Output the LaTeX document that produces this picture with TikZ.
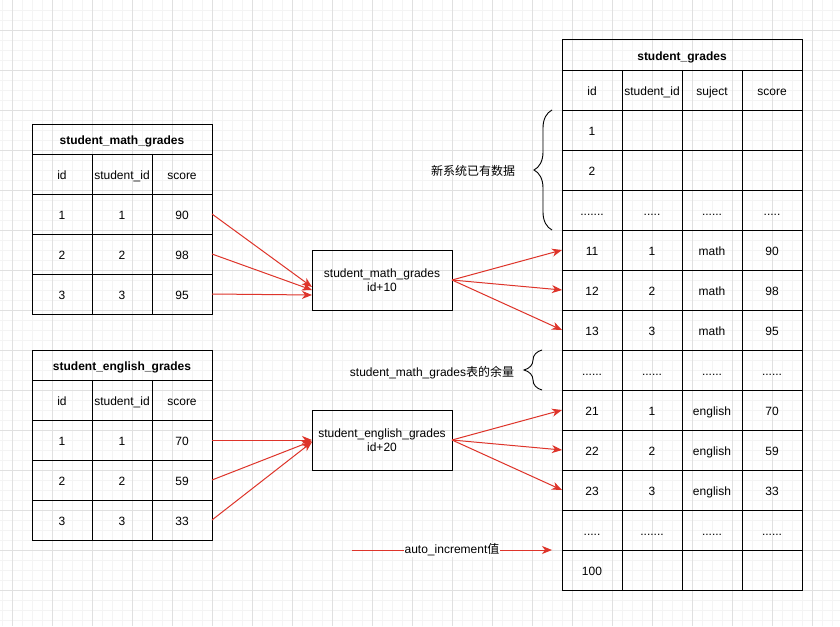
\documentclass[tikz,border=0pt]{standalone}
\usepackage{fontspec}
\setmainfont{Liberation Sans}
\newfontfamily\cjk{Noto Sans CJK SC}
\usepackage{tikz}
\usetikzlibrary{arrows.meta,decorations.pathreplacing}

\definecolor{gridmajor}{RGB}{224,224,224}
\definecolor{gridminor}{RGB}{244,244,244}
\definecolor{linkred}{RGB}{222,52,42}

\tikzset{
  cell/.style={draw,line width=1pt,minimum width=60pt,minimum height=40pt,
    inner sep=0pt,outer sep=0pt,anchor=north west,text height=10pt,text depth=0pt},
  tabletitle/.style={cell,minimum height=30pt,font=\fontsize{12}{14}\selectfont\bfseries},
  stepbox/.style={draw,line width=1pt,minimum width=140pt,minimum height=60pt,
    align=center,outer sep=0pt},
  flow/.style={draw=linkred,line width=1pt,-{Stealth[length=10pt,width=8pt,inset=3pt]},
    linkred},
  bracket/.style={draw,line width=0.9pt,decorate,decoration={brace,amplitude=18pt}}
}

\begin{document}
\begin{tikzpicture}[x=1pt,y=-1pt,font=\fontsize{12}{14}\selectfont]
  \useasboundingbox (0,0) rectangle (840,626);
  \fill[white] (0,0) rectangle (840,626);

  % background grid
  \foreach \x in {2,12,...,832} \draw[gridminor,line width=0.8pt] (\x,0) -- (\x,626);
  \foreach \y in {10,20,...,620} \draw[gridminor,line width=0.8pt] (0,\y) -- (840,\y);
  \foreach \x in {12,52,...,812} \draw[gridmajor,line width=0.8pt] (\x,0) -- (\x,626);
  \foreach \y in {30,70,...,590} \draw[gridmajor,line width=0.8pt] (0,\y) -- (840,\y);

  % old tables
  \node[tabletitle,minimum width=180pt] (mathtitle) at (32,124) {student\_math\_grades};
  \foreach \a/\b/\c [count=\r from 0] in {id/student\_id/score,1/1/90,2/2/98,3/3/95}{
    \node[cell] (m-\r-1) at (32,154+40*\r) {\a};
    \node[cell] (m-\r-2) at (92,154+40*\r) {\b};
    \node[cell] (m-\r-3) at (152,154+40*\r) {\c};
  }

  \node[tabletitle,minimum width=180pt] (engtitle) at (32,350) {student\_english\_grades};
  \foreach \a/\b/\c [count=\r from 0] in {id/student\_id/score,1/1/70,2/2/59,3/3/33}{
    \node[cell] (e-\r-1) at (32,380+40*\r) {\a};
    \node[cell] (e-\r-2) at (92,380+40*\r) {\b};
    \node[cell] (e-\r-3) at (152,380+40*\r) {\c};
  }

  % new table
  \node[tabletitle,minimum width=240pt] (gradestitle) at (562,40) {student\_grades};
  \foreach \a/\b/\c/\d [count=\r from 0] in {id/student\_id/suject/score,
      1/{}/{}/{},2/{}/{}/{},{.......}/{.....}/{......}/{.....},
      11/1/math/90,12/2/math/98,13/3/math/95,
      {......}/{......}/{......}/{......},
      21/1/english/70,22/2/english/59,23/3/english/33,
      {.....}/{.......}/{......}/{......},100/{}/{}/{}}{
    \node[cell] (g-\r-1) at (562,70+40*\r) {\a};
    \node[cell] (g-\r-2) at (622,70+40*\r) {\b};
    \node[cell] (g-\r-3) at (682,70+40*\r) {\c};
    \node[cell] (g-\r-4) at (742,70+40*\r) {\d};
  }

  % id shift steps
  \node[stepbox] (mathbox) at (382,280) {student\_math\_grades\\id+10};
  \node[stepbox] (engbox) at (382,440) {student\_english\_grades\\id+20};

  \foreach \r/\s in {1/-7pt,2/-10pt,3/-15pt}
    \draw[flow] (m-\r-3.east) -- ([yshift=\s]mathbox.west);
  \foreach \r in {4,5,6}
    \draw[flow] (mathbox.east) -- (g-\r-1.west);

  \foreach \r/\s in {1/0pt,2/-1pt,3/-2pt}
    \draw[flow] (e-\r-3.east) -- ([yshift=\s]engbox.west);
  \foreach \r in {8,9,10}
    \draw[flow] (engbox.east) -- (g-\r-1.west);

  % notes
  \draw[bracket] (552,230) -- (552,110);
  \node (oldnote) at (473,171) {\cjk 新系统已有数据};
  \draw[bracket] (542,390) -- (542,350);
  \node (restnote) at (432,373) {student\_math\_grades{\cjk 表的余量}};

  \coordinate (autostart) at (352,550);
  \draw[flow] (autostart) -- ([xshift=-10pt]g-12-1.north west)
    node[midway,fill=white,inner sep=1pt,text=black] (autonote) {auto\_increment{\cjk 值}};
\end{tikzpicture}
\end{document}
